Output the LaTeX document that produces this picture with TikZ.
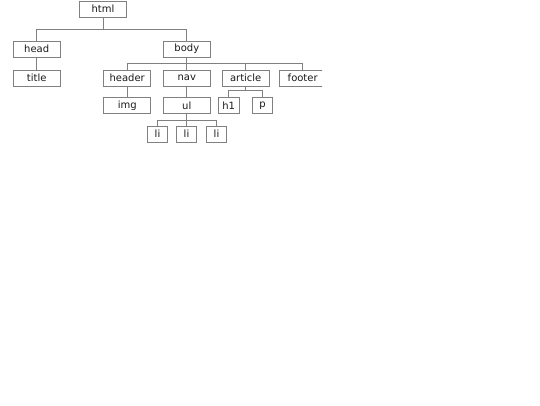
\documentclass[tikz,border=0pt]{standalone}
\usepackage{fontspec}
\setmainfont{DejaVu Sans}

\begin{document}
\begin{tikzpicture}[
  x=0.75pt, y=-0.75pt,
  tag/.style  = {
    draw=gray, line width=0.75pt,
    text=black!90,
    inner sep=0pt,
    minimum width=\boxw,
    minimum height=\boxh,
    font=\fontsize{7.5}{9}\selectfont
  },
  leaf/.style = {tag, minimum width=\leafw},
  link/.style = {draw=gray, line width=0.75pt}
]

% ---- constants ----
\def\boxw{35.25pt}   % width of a tag box
\def\boxh{12pt}      % height of every box
\def\leafw{15.5pt}   % width of the small boxes

\useasboundingbox (0,0) rectangle (540,405);

\begin{scope}
\clip (0,0) rectangle (322,405);

% ---- nodes (one row per level) ----
\node[tag] (html) at (103,9) {html};

\node[tag] (head) at (36.7,49)  {head};
\node[tag] (body) at (186.8,49) {body};

\node[tag] (title)   at (36.7,78)  {title};
\node[tag] (header)  at (127.2,78) {header};
\node[tag] (nav)     at (186.8,78) {nav};
\node[tag] (article) at (245.7,78) {article};
\node[tag] (footer)  at (302.7,78) {footer};

\node[tag]  (img) at (127.2,105.5) {img};
\node[tag]  (ul)  at (186.8,105.5) {ul};
\node[leaf] (h1)  at (228.7,105.5) {h1};
\node[leaf] (p)   at (262.5,105.5) {p};

\node[leaf] (li1) at (157.5,134) {li};
\node[leaf] (li2) at (186.5,134) {li};
\node[leaf] (li3) at (216.5,134) {li};

% ---- connectors (elbows down from parent) ----
\foreach \c in {head,body}
  \draw[link] (html.south) -- ++(0,12.3) -| (\c.north);

\draw[link] (head) -- (title);

\foreach \c in {header,nav,article,footer}
  \draw[link] (body.south) -- ++(0,5.7) -| (\c.north);

\draw[link] (header) -- (img);
\draw[link] (nav) -- (ul);

\foreach \c in {h1,p}
  \draw[link] (article.south) -- ++(0,4) -| (\c.north);

\foreach \c in {li1,li2,li3}
  \draw[link] (ul.south) -- ++(0,6) -| (\c.north);

\end{scope}
\end{tikzpicture}
\end{document}
